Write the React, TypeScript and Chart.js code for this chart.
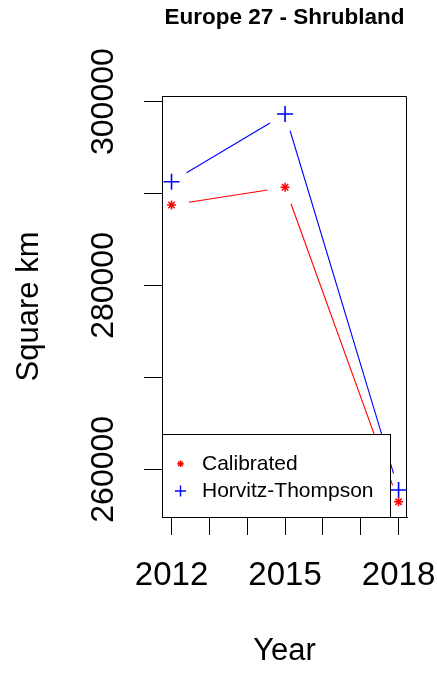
import React, { useEffect, useRef } from 'react';
import { Chart, registerables } from 'chart.js';
import { drawPoint } from 'chart.js/helpers';

Chart.register(...registerables);

// ---- data ----
const years = [2012, 2015, 2018];
const calibrated = [288750, 290680, 256460];
const horvitzThompson = [291280, 298650, 257740];
const seriesLabels = ['Calibrated', 'Horvitz-Thompson'];
const seriesColors = ['#FF0000', '#0000FF'];
const xTicks = [2012, 2013, 2014, 2015, 2016, 2017, 2018];
const xTickLabels = [2012, 2015, 2018];
const yTicks = [260000, 270000, 280000, 290000, 300000];
const yTickLabels = [260000, 280000, 300000];
const chartTitle = 'Europe 27 - Shrubland';
const xTitle = 'Year';
const yTitle = 'Square km';

const FONT = '"Liberation Sans", Arial, Helvetica, sans-serif';
const GAP = 17.5;

const gapLinesPlugin = {
  id: 'gapLines',
  beforeDatasetsDraw(chart: any) {
    const { ctx, chartArea } = chart;
    ctx.save();
    // top and right frame edges
    ctx.strokeStyle = '#000';
    ctx.lineWidth = 1;
    const t = Math.round(chartArea.top) + 0.5;
    const r = Math.round(chartArea.right) - 0.5;
    const b = Math.round(chartArea.bottom) + 0.5;
    const l = Math.round(chartArea.left) + 0.5;
    ctx.beginPath();
    ctx.moveTo(l, t);
    ctx.lineTo(r, t);
    ctx.lineTo(r, b);
    ctx.stroke();

    ctx.beginPath();
    ctx.rect(chartArea.left, chartArea.top, chartArea.right - chartArea.left, chartArea.bottom - chartArea.top);
    ctx.clip();
    chart.data.datasets.forEach((ds: any, di: number) => {
      const meta = chart.getDatasetMeta(di);
      const pts = meta.data;
      ctx.strokeStyle = ds.borderColor;
      ctx.lineWidth = 1.1;
      for (let i = 0; i < pts.length - 1; i++) {
        const p0 = pts[i], p1 = pts[i + 1];
        const dx = p1.x - p0.x, dy = p1.y - p0.y;
        const len = Math.hypot(dx, dy);
        if (len <= 2 * GAP) continue;
        const ux = dx / len, uy = dy / len;
        ctx.beginPath();
        ctx.moveTo(p0.x + ux * GAP, p0.y + uy * GAP);
        ctx.lineTo(p1.x - ux * GAP, p1.y - uy * GAP);
        ctx.stroke();
      }
    });
    ctx.restore();
  },
};

const legendRadius = [3.2, 5.5];

const boxLegendPlugin = {
  id: 'boxLegend',
  afterDraw(chart: any) {
    const { ctx, chartArea } = chart;
    const w = 228;
    const h = 83;
    const x0 = Math.round(chartArea.left) + 0.5;
    const y1 = Math.round(chartArea.bottom) + 0.5;
    const y0 = y1 - h;
    ctx.save();
    ctx.fillStyle = '#FFFFFF';
    ctx.fillRect(x0, y0, w, h);
    ctx.strokeStyle = '#000';
    ctx.lineWidth = 1;
    ctx.strokeRect(x0, y0, w, h);
    ctx.font = `21px ${FONT}`;
    ctx.textBaseline = 'middle';
    ctx.textAlign = 'left';
    chart.data.datasets.forEach((ds: any, i: number) => {
      const cy = y0 + 29.2 + i * 27.3;
      ctx.strokeStyle = ds.borderColor;
      ctx.lineWidth = 1.4;
      drawPoint(ctx, { pointStyle: ds.pointStyle, rotation: 0, radius: legendRadius[i], borderWidth: 1.4 } as any, x0 + 18, cy);
      ctx.fillStyle = '#000';
      ctx.fillText(ds.label, x0 + 39.5, cy + 0.5);
    });
    ctx.restore();
  },
};

function isLabelled(v: number, list: number[]) {
  const r = Math.round(v);
  return Math.abs(v - r) < 1e-6 && list.includes(r);
}

export default function App() {
  const ref = useRef<HTMLCanvasElement>(null);

  useEffect(() => {
    if (!ref.current) return;
    Chart.defaults.color = '#000';
    const chart = new Chart(ref.current, {
      type: 'scatter',
      data: {
        datasets: [
          {
            label: seriesLabels[0],
            data: years.map((x, i) => ({ x, y: calibrated[i] })),
            showLine: false,
            borderColor: seriesColors[0],
            backgroundColor: seriesColors[0],
            pointStyle: 'star',
            pointRadius: 4.5,
            pointBorderWidth: 1.5,
            pointBorderColor: seriesColors[0],
          },
          {
            label: seriesLabels[1],
            data: years.map((x, i) => ({ x, y: horvitzThompson[i] })),
            showLine: false,
            borderColor: seriesColors[1],
            backgroundColor: seriesColors[1],
            pointStyle: 'cross',
            pointRadius: 8,
            pointBorderWidth: 1.6,
            pointBorderColor: seriesColors[1],
          },
        ],
      },
      options: {
        animation: false,
        responsive: false,
        events: [],
        layout: { padding: { left: 0, right: 30, top: 0, bottom: 0 } },
        plugins: {
          legend: { display: false },
          tooltip: { enabled: false },
          title: {
            display: true,
            text: chartTitle,
            fullSize: false,
            color: '#000',
            font: { family: FONT, size: 22.5, weight: 'bold' },
            padding: { top: 4.5, bottom: 64.5 },
          },
        },
        scales: {
          x: {
            type: 'linear',
            min: 2011.748,
            max: 2018.223,
            afterBuildTicks: (s: any) => { s.ticks = xTicks.map((v) => ({ value: v })); },
            afterFit: (s: any) => {
              s.height = 158;
              s.paddingLeft = 0; s.paddingRight = 0; s.paddingTop = 0; s.paddingBottom = 0;
            },
            border: { display: true, color: '#000', width: 1 },
            grid: { drawOnChartArea: false, drawTicks: true, tickLength: 18, color: '#000', lineWidth: 1 },
            ticks: {
              autoSkip: false,
              maxRotation: 0,
              minRotation: 0,
              padding: 21,
              color: '#000',
              font: { family: FONT, size: 33 },
              callback: (v: any) => (isLabelled(Number(v), xTickLabels) ? String(Math.round(Number(v))) : ''),
            },
            title: {
              display: true,
              text: xTitle,
              color: '#000',
              font: { family: FONT, size: 31 },
              padding: { top: 0, bottom: 5 },
            },
          },
          y: {
            type: 'linear',
            min: 254810,
            max: 300609,
            afterBuildTicks: (s: any) => { s.ticks = yTicks.map((v) => ({ value: v })); },
            afterFit: (s: any) => {
              s.width = 162;
              s.paddingLeft = 0; s.paddingRight = 0; s.paddingTop = 0; s.paddingBottom = 0;
            },
            border: { display: true, color: '#000', width: 1 },
            grid: { drawOnChartArea: false, drawTicks: true, tickLength: 18, color: '#000', lineWidth: 1 },
            ticks: {
              autoSkip: false,
              minRotation: 90,
              maxRotation: 90,
              crossAlign: 'center',
              padding: -13.8,
              color: '#000',
              font: { family: FONT, size: 32 },
              callback: (v: any) => (isLabelled(Number(v), yTickLabels) ? String(Math.round(Number(v))) : ''),
            },
            title: {
              display: true,
              text: yTitle,
              color: '#000',
              font: { family: FONT, size: 31 },
              padding: { top: 10.5, bottom: 0 },
            },
          },
        },
      } as any,
      plugins: [gapLinesPlugin, boxLegendPlugin],
    });
    return () => chart.destroy();
  }, []);

  return (
    <div style={{ position: 'absolute', left: 0, top: 0, width: 437, height: 675, background: '#fff' }}>
      <canvas ref={ref} width={437} height={675} style={{ display: 'block', width: 437, height: 675 }} />
    </div>
  );
}
